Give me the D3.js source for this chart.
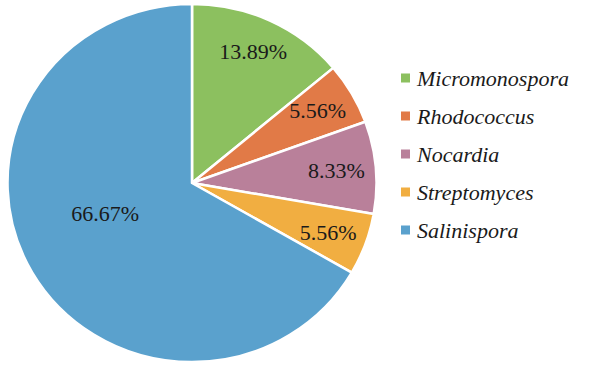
<!DOCTYPE html>
<html><head><meta charset="utf-8">
<script src="https://cdn.jsdelivr.net/npm/d3@7"></script>
<style>body{margin:0;background:#fff}svg{display:block}</style>
</head><body>
<svg id="c" width="596" height="365"></svg>
<script>
const categories = ["Micromonospora","Rhodococcus","Nocardia","Streptomyces","Salinispora"];
const values = [13.89, 5.56, 8.33, 5.56, 66.67];
const labels = ["13.89%","5.56%","8.33%","5.56%","66.67%"];
const colors = ["#8cc05f","#e17a47","#b9809a","#f1ae41","#5aa1cd"];
const FONT = '"Liberation Serif","Times New Roman",Times,"DejaVu Serif","Noto Serif",serif';

const svg = d3.select("#c");
const cx = 192, cy = 183, R = 180;
const g = svg.append("g").attr("transform",`translate(${cx},${cy}) scale(1.025,0.995)`);
const pie = d3.pie().sort(null).value(d=>d)(values);
const arc = d3.arc().innerRadius(0).outerRadius(R);
g.selectAll("path").data(pie).join("path")
  .attr("d",arc).attr("fill",(d,i)=>colors[i])
  .attr("stroke","#fff").attr("stroke-width",2.5).attr("stroke-linejoin","round");

const lab = svg.append("g").attr("transform",`translate(${cx},${cy})`);
pie.forEach((d,i)=>{
  let a = (d.startAngle+d.endAngle)/2, r = 145;
  if (d.endAngle-d.startAngle > Math.PI) { a += 0.19; r = 92; }
  lab.append("text").attr("x",Math.sin(a)*r).attr("y",-Math.cos(a)*r)
    .attr("text-anchor","middle").attr("dominant-baseline","central")
    .style("font-family",FONT).style("font-size","22px").attr("fill","#1a1a1a").text(labels[i]);
});

const leg = svg.append("g").attr("transform","translate(401,78)");
categories.forEach((c,i)=>{
  const y = i*38;
  leg.append("rect").attr("x",0).attr("y",y-4.5).attr("width",9).attr("height",9).attr("fill",colors[i]);
  leg.append("text").attr("x",16).attr("y",y).attr("dominant-baseline","central")
    .style("font-family",FONT).style("font-style","italic").style("font-size","22px")
    .attr("fill","#1a1a1a").text(c);
});
</script>
</body></html>
